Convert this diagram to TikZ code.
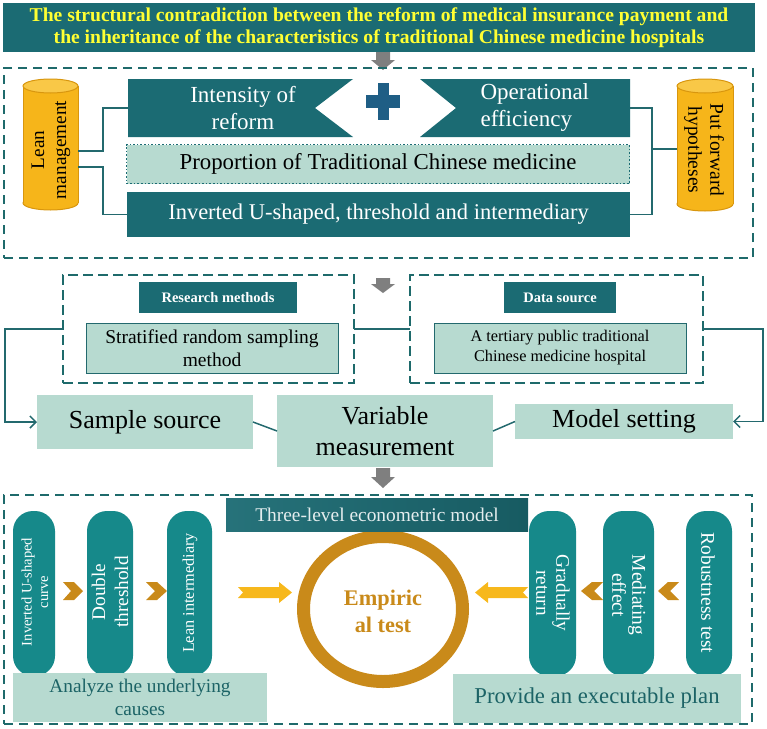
\documentclass[tikz,border=0pt]{standalone}
\usepackage{fontspec}
\setmainfont{Liberation Serif}
\usetikzlibrary{calc,arrows.meta,shapes.geometric}
\definecolor{dteal}{HTML}{1B6B73}
\definecolor{lteal}{HTML}{B7DAD0}
\definecolor{pteal}{HTML}{16898A}
\definecolor{dashc}{HTML}{1E6A6B}
\definecolor{lnc}{HTML}{23696E}
\definecolor{cylf}{HTML}{F6B51A}
\definecolor{cylt}{HTML}{F9C847}
\definecolor{cylb}{HTML}{D8960E}
\definecolor{goldc}{HTML}{C98A1A}
\definecolor{yarr}{HTML}{F7B81C}
\definecolor{plusc}{HTML}{1F5E85}
\definecolor{grayc}{HTML}{7F7F7F}
\definecolor{ttitle}{HTML}{FFFF33}
\definecolor{boxtxt}{HTML}{1C6366}
\newcommand{\fs}[2]{\fontsize{#1}{#2}\selectfont}
\begin{document}
\begin{tikzpicture}[x=1pt,y=-1pt,
  rbox/.style={inner sep=0pt, outer sep=0pt},
  darkbox/.style={rbox, fill=dteal, text=white},
  lightbox/.style={rbox, fill=lteal, text=black},
  bigdash/.style={rbox, draw=dashc, line width=2.4pt, dash pattern=on 9pt off 6pt},
  middash/.style={rbox, draw=dashc, line width=2.6pt, dash pattern=on 10pt off 5pt},
  conn/.style={draw=lnc, line width=1.5pt},
  pill/.style={rbox, fill=pteal, rounded corners=20pt, minimum height=165pt},
  ptxt/.style={text=white, align=center, inner sep=0pt},
  chev/.style={fill=goldc},
  yar/.style={fill=yarr},
  garr/.style={fill=grayc}
]
\useasboundingbox (0,0) rectangle (767,728);

% ---------- title ----------
\node[darkbox, minimum width=752pt, minimum height=49pt, text=ttitle, align=center,
  font=\bfseries\fs{19.6}{22}] (title) at (379,27.5)
  {The structural contradiction between the reform of medical insurance payment and\\the inheritance of the characteristics of traditional Chinese medicine hospitals};
\fill[garr] (376,52) -- (390,52) -- (390,60) -- (395,60) -- (383,70) -- (371,60) -- (376,60) -- cycle;

% ---------- block 1 ----------
\node[bigdash, minimum width=749pt, minimum height=190pt] (blk1) at (378.5,163) {};

\node[rbox, minimum width=225pt, minimum height=58pt] (intens) at (240.5,108) {};
\fill[dteal] (intens.north west) -- (intens.north east) -- ($(intens.east)+(-38,0)$) -- (intens.south east) -- (intens.south west) -- cycle;
\node[text=white, align=center, font=\fs{23}{27}] (intenst) at (243,108) {Intensity of\\reform};

\node[rbox, minimum width=210pt, minimum height=58pt] (opeff) at (525,108) {};
\fill[dteal] (opeff.north west) -- (opeff.north east) -- (opeff.south east) -- (opeff.south west) -- ($(opeff.west)+(36,0)$) -- cycle;
\node[text=white, align=left, font=\fs{23}{27}, anchor=west] (opefft) at (477,108) {Operational\\efficiency};

\fill[plusc] (377.5,83) rectangle (388.5,120);
\fill[plusc] (366,95) rectangle (400,108);

\node[lightbox, draw=dteal, line width=1.6pt, dotted, minimum width=503pt, minimum height=39pt,
  font=\fs{22.8}{26}] (prop) at (378,164) {Proportion of Traditional Chinese medicine};
\node[darkbox, minimum width=503pt, minimum height=45pt, font=\fs{22.5}{26}] (inv) at (378.5,214.5)
  {Inverted U-shaped, threshold and intermediary};

% cylinders
\node[rbox, minimum width=55pt, minimum height=131pt] (cylL) at (50.5,144.5) {};
\fill[cylf, draw=cylb, line width=1pt] (50.5,203) ellipse[x radius=27.5, y radius=7];
\fill[cylf] (23,86) rectangle (78,203);
\draw[cylb, line width=1pt] (23,86) -- (23,203) (78,86) -- (78,203);
\fill[cylt, draw=cylb, line width=1pt] (50.5,86) ellipse[x radius=27.5, y radius=7];
\node[rotate=90, align=center, font=\fs{19.2}{22}, inner sep=0pt] (cylLt) at (51,150) {Lean\\management};

\node[rbox, minimum width=56pt, minimum height=132pt] (cylR) at (705,145) {};
\fill[cylf, draw=cylb, line width=1pt] (705,204) ellipse[x radius=28, y radius=7];
\fill[cylf] (677,86) rectangle (733,204);
\draw[cylb, line width=1pt] (677,86) -- (677,204) (733,86) -- (733,204);
\fill[cylt, draw=cylb, line width=1pt] (705,86) ellipse[x radius=28, y radius=7];
\node[rotate=-90, align=center, font=\fs{19.5}{22}, inner sep=0pt] (cylRt) at (704,150) {Put forward\\hypotheses};

\draw[conn] ($(cylL.east)+(0,6.5)$) -- ++(25,0) |- (intens.west);
\draw[conn] ($(cylL.east)+(0,22.5)$) -- ++(25,0) |- (inv.west);
\draw[conn] (opeff.east) -- ++(22,0) |- (inv.east);
\draw[conn] ($(cylR.west)+(0,4)$) -- ++(-25,0);

% ---------- block 2 ----------
\fill[garr] (376,278) -- (390,278) -- (390,284) -- (395,284) -- (383,293) -- (371,284) -- (376,284) -- cycle;

\node[middash, minimum width=291pt, minimum height=108pt] (resbox) at (208.5,329) {};
\node[darkbox, minimum width=158pt, minimum height=31pt, font=\bfseries\fs{14.5}{17}] (resm) at (218,297.5) {Research methods};
\node[lightbox, draw=lnc, line width=0.8pt, minimum width=252pt, minimum height=50pt, align=center,
  font=\fs{19.5}{23}] (strat) at (212,348) {Stratified random sampling\\method};

\node[middash, minimum width=293pt, minimum height=108pt] (databox) at (556.5,329) {};
\node[darkbox, minimum width=112pt, minimum height=31pt, font=\bfseries\fs{14.5}{17}] (dsrc) at (560,297.5) {Data source};
\node[lightbox, draw=lnc, line width=0.8pt, minimum width=252pt, minimum height=50pt, align=center,
  font=\fs{16.3}{20}] (tert) at (560,348) {A tertiary public traditional\\Chinese medicine hospital};

\node[lightbox, minimum width=216pt, minimum height=54pt, font=\fs{26}{30}] (sample) at (145,422) {Sample source};
\node[lightbox, minimum width=216pt, minimum height=72pt, align=center, font=\fs{26}{31}] (var) at (385,431) {Variable\\measurement};
\node[lightbox, minimum width=218pt, minimum height=35pt, font=\fs{26}{30}] (model) at (624,421.5) {Model setting};

\draw[conn, -{Straight Barb[length=6pt,width=12pt]}] (resbox.west) -- ++(-58,0) |- (sample.west);
\draw[conn, -{Straight Barb[length=6pt,width=12pt]}] (databox.east) -- ++(60,0) |- (model.east);
\draw[conn] (resbox.east) -- (databox.west);
\draw[conn] (sample.east) -- (var.west);
\draw[conn] (var.east) -- (model.west);

\fill[garr] (376,468) -- (390,468) -- (390,477) -- (395,477) -- (383,488) -- (371,477) -- (376,477) -- cycle;

% ---------- block 3 ----------
\node[bigdash, minimum width=748pt, minimum height=229pt] (blk3) at (378,609.5) {};

\node[draw=goldc, line width=13pt, ellipse, minimum width=159pt, minimum height=145pt, inner sep=0pt] (ring) at (383,609) {};
\node[text=goldc, align=center, font=\bfseries\fs{22.3}{27}] (emp) at (383,611) {Empiric\\al test};

\node[rbox, minimum width=302pt, minimum height=33pt, left color=dteal!95!white, right color=dteal!85!black,
  text=white!88!dteal, font=\fs{19.4}{22}] (three) at (377,514.5) {Three-level econometric model};

\node[pill, minimum width=42pt] (p1) at (34,593.5) {};
\node[pill, minimum width=46pt] (p2) at (110,593.5) {};
\node[pill, minimum width=45pt] (p3) at (189.5,593.5) {};
\node[pill, minimum width=47pt] (p4) at (552.5,593.5) {};
\node[pill, minimum width=51pt] (p5) at (628.5,593.5) {};
\node[pill, minimum width=46pt] (p6) at (709,593.5) {};

\node[ptxt, rotate=90, font=\fs{14.6}{16.5}] (p1t) at (35,592) {Inverted U-shaped\\curve};
\node[ptxt, rotate=90, font=\fs{19.3}{23}] (p2t) at (110,592) {Double\\threshold};
\node[ptxt, rotate=90, font=\fs{16.3}{19}] (p3t) at (190,593) {Lean intermediary};
\node[ptxt, rotate=-90, font=\fs{19.2}{20}] (p4t) at (553,593) {Gradually\\return};
\node[ptxt, rotate=-90, font=\fs{19.5}{20}] (p5t) at (629,595) {Mediating\\effect};
\node[ptxt, rotate=-90, font=\fs{19.4}{22}] (p6t) at (708,593) {Robustness test};

% chevrons
\fill[chev] (63,582) -- (74,582) -- (83,591) -- (74,600) -- (63,600) -- (71,591) -- cycle;
\fill[chev] (146,582) -- (157,582) -- (167,591) -- (157,600) -- (146,600) -- (155,591) -- cycle;
\fill[chev] (603,582) -- (592,582) -- (581,591) -- (592,600) -- (603,600) -- (594,591) -- cycle;
\fill[chev] (679,582) -- (668,582) -- (658,591) -- (668,600) -- (679,600) -- (670,591) -- cycle;

% yellow arrows
\fill[yar] (238,587) -- (279,587) -- (279,582) -- (292,592.5) -- (279,603) -- (279,598) -- (238,598) -- (243,592.5) -- cycle;
\fill[yar] (528,587) -- (488,587) -- (488,582) -- (475,592.5) -- (488,603) -- (488,598) -- (528,598) -- (523,592.5) -- cycle;

\node[lightbox, minimum width=254pt, minimum height=49pt, text=boxtxt, align=center,
  font=\fs{19.3}{23}] (analyze) at (140,697.5) {Analyze the underlying\\causes};
\node[lightbox, minimum width=288pt, minimum height=49pt, text=boxtxt,
  font=\fs{22.7}{26}] (provide) at (597,698) {Provide an executable plan};
\end{tikzpicture}
\end{document}
